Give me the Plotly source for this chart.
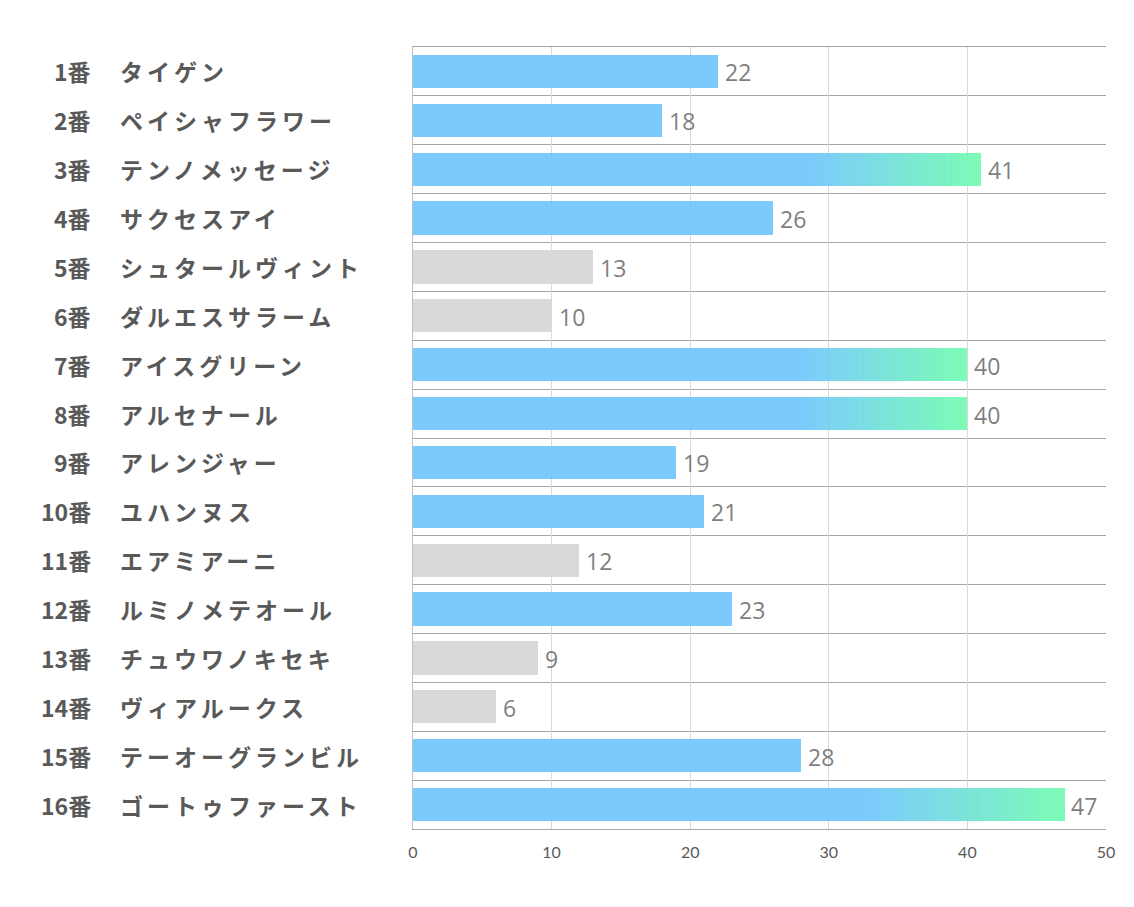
import plotly.graph_objects as go

numbers = [f"{i}番" for i in range(1, 17)]
names = ["タイゲン", "ペイシャフラワー", "テンノメッセージ", "サクセスアイ", "シュタールヴィント",
         "ダルエスサラーム", "アイスグリーン", "アルセナール", "アレンジャー", "ユハンヌス",
         "エアミアーニ", "ルミノメテオール", "チュウワノキセキ", "ヴィアルークス", "テーオーグランビル",
         "ゴートゥファースト"]
values = [22, 18, 41, 26, 13, 10, 40, 40, 19, 21, 12, 23, 9, 6, 28, 47]
highlight = [True, True, True, True, False, False, True, True, True, True, False, True, False, False, True, True]

ALPHA = 0.92
def pre(rgb):
    return tuple(max(0, min(255, round((c - (1 - ALPHA) * 255) / ALPHA))) for c in rgb)
def rgba(rgb):
    r, g, b = pre(rgb)
    return f"rgba({r},{g},{b},{ALPHA})"

BLUE = (124, 203, 253)
GREEN = (125, 252, 182)
GRAY = (217, 217, 217)

ypos = list(range(len(values)))
BW = 0.68

main_colors = []
for v, h in zip(values, highlight):
    if v >= 40:
        main_colors.append("rgba(0,0,0,0)")
    elif h:
        main_colors.append(rgba(BLUE))
    else:
        main_colors.append(rgba(GRAY))

fig = go.Figure()
fig.add_trace(go.Bar(
    x=values, y=ypos, orientation="h", width=BW,
    marker=dict(color=main_colors, line=dict(width=0)),
    hoverinfo="skip", showlegend=False,
))

N = 40
for i, v in enumerate(values):
    if v < 40:
        continue
    g0 = 0.7 * v
    bases = [0.0]
    widths = [g0]
    cols = [rgba(BLUE)]
    step = (v - g0) / N
    for k in range(N):
        t = (k + 0.5) / N
        c = tuple(BLUE[j] + (GREEN[j] - BLUE[j]) * t for j in range(3))
        bases.append(g0 + k * step)
        widths.append(step * 1.02)
        cols.append(rgba(c))
    fig.add_trace(go.Bar(
        x=widths, base=bases, y=[i] * len(bases), orientation="h", width=BW,
        marker=dict(color=cols, line=dict(width=0)),
        hoverinfo="skip", showlegend=False,
    ))

annotations = []
for i, (n, nm, v) in enumerate(zip(numbers, names, values)):
    annotations.append(dict(x=-0.462, y=i, xref="paper", yref="y", text=f"<b>{n}</b>",
                            xanchor="right", yanchor="middle", showarrow=False,
                            font=dict(family="Noto Sans CJK JP", size=23, color="#595959")))
    annotations.append(dict(x=-0.425, y=i, xref="paper", yref="y",
                            text=f"<b><span style='letter-spacing:4px'>{nm}</span></b>",
                            xanchor="left", yanchor="middle", showarrow=False,
                            font=dict(family="Noto Sans CJK JP", size=23, color="#595959")))
    annotations.append(dict(x=v, y=i, xref="x", yref="y", text=str(v),
                            xanchor="left", yanchor="middle", xshift=5, yshift=-1, showarrow=False,
                            font=dict(family="Open Sans", size=23, color="#7f7f7f")))

fig.update_layout(
    width=1126, height=899,
    margin=dict(l=405, r=28, t=39, b=78),
    paper_bgcolor="white", plot_bgcolor="white",
    barmode="overlay", bargap=0,
    annotations=annotations,
    xaxis=dict(range=[0, 50], tickvals=[0, 10, 20, 30, 40, 50], showgrid=True,
               gridcolor="#d9d9d9", gridwidth=1, zeroline=False,
               showline=True, mirror=True, linecolor="#a6a6a6", linewidth=1,
               tickfont=dict(family="Lato", size=16, color="#595959"), ticks="",
               ticklabelstandoff=9),
    yaxis=dict(range=[15.5, -0.5], tickvals=ypos, showticklabels=False, showgrid=False,
               zeroline=False, showline=True, linecolor="#bfbfbf", linewidth=1, ticks="",
               minor=dict(tick0=0.5, dtick=1, showgrid=True, gridcolor="#a6a6a6", gridwidth=1, ticks="")),
)

fig.write_html("out.html")
